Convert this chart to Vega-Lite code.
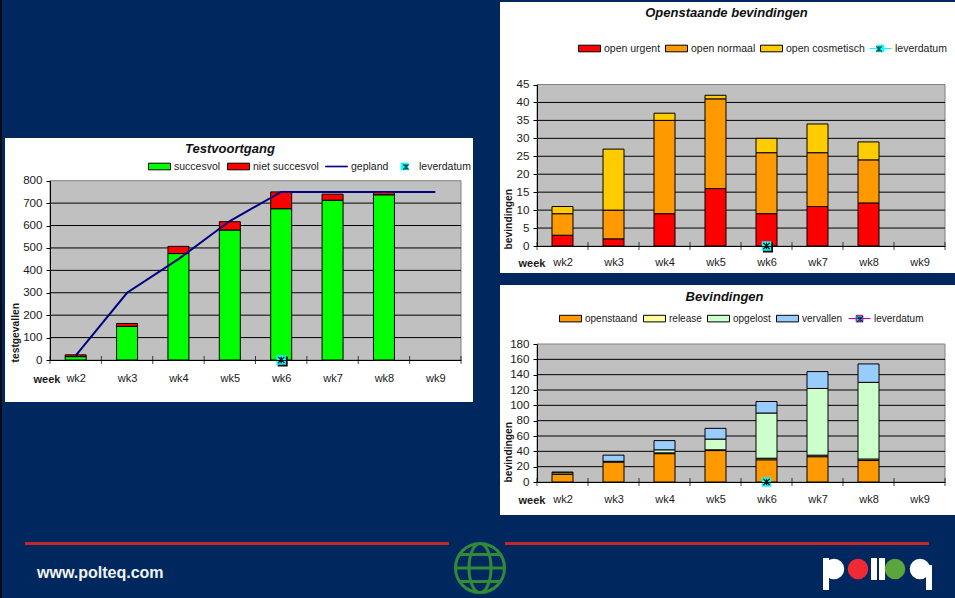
{"$schema":"https://vega.github.io/schema/vega-lite/v6.json","background":"#00285f","padding":0,"spacing":3,"resolve":{"scale":{"color":"independent","shape":"independent","stroke":"independent"},"legend":{"color":"independent","shape":"independent","stroke":"independent"}},"config":{"view":{"stroke":null},"font":"Liberation Sans","axis":{"labelFont":"Liberation Sans","titleFont":"Liberation Sans","labelColor":"#1a1a1a","titleColor":"#1a1a1a","domainColor":"black","tickColor":"black","labelOverlap":false},"legend":{"labelFont":"Liberation Sans","labelFontSize":10.5,"labelColor":"#1a1a1a"},"title":{"font":"Liberation Sans"}},"hconcat":[{"width":2,"height":598,"view":{"fill":"#0a0a14"},"data":{"values":[]},"mark":"point","encoding":{}},{"spacing":0,"resolve":{"scale":{"color":"independent","shape":"independent","stroke":"independent"},"legend":{"color":"independent","shape":"independent","stroke":"independent"}},"vconcat":[{"width":950,"height":2,"data":{"values":[]},"mark":"point","encoding":{}},{"spacing":27,"resolve":{"scale":{"color":"independent","shape":"independent","stroke":"independent"},"legend":{"color":"independent","shape":"independent","stroke":"independent"}},"hconcat":[{"spacing":0,"resolve":{"scale":{"color":"independent","shape":"independent","stroke":"independent"},"legend":{"color":"independent","shape":"independent","stroke":"independent"}},"vconcat":[{"width":468,"height":136,"data":{"values":[]},"mark":"point","encoding":{}},{"width":468,"height":264,"view":{"fill":"white"},"resolve":{"axis":{"y":"independent"}},"title":{"text":"Testvoortgang","fontSize":13,"fontWeight":"bold","fontStyle":"italic","color":"#111111","anchor":"middle","offset":-18,"dx":-9},"encoding":{"x":{"field":"week","type":"quantitative","scale":{"domain":[1.5,9.5],"range":[45,456],"nice":false,"zero":false,"padding":0},"axis":{"values":[2,3,4,5,6,7,8,9],"labelExpr":"'wk'+datum.value","ticks":false,"grid":false,"domain":true,"offset":-42,"labelPadding":12,"labelFontSize":11,"zindex":1,"title":"week","titleFontSize":11,"titleFontWeight":"bold","titleX":28,"titleY":22,"titleAlign":"left","titleBaseline":"alphabetic"}}},"layer":[{"data":{"values":[{"week":1.5,"end":9.5,"lo":0,"hi":800}]},"mark":{"type":"rect","fill":"#c0c0c0","stroke":"#808080"},"encoding":{"x2":{"field":"end"},"y":{"field":"lo","type":"quantitative","scale":{"domain":[0,800],"range":[222,42.7],"nice":false},"axis":{"values":[0,100,200,300,400,500,600,700,800],"grid":false,"domain":true,"tickSize":4,"labelPadding":4,"labelFontSize":11.6,"offset":-45,"zindex":1,"title":"testgevallen","titleFontSize":10.3,"titleFontWeight":"bold","titleAngle":-90,"titleX":-35,"titleY":224,"titleAlign":"left","titleBaseline":"middle"}},"y2":{"field":"hi"}}},{"data":{"values":[{"week":1.5,"end":9.5,"val":100},{"week":1.5,"end":9.5,"val":200},{"week":1.5,"end":9.5,"val":300},{"week":1.5,"end":9.5,"val":400},{"week":1.5,"end":9.5,"val":500},{"week":1.5,"end":9.5,"val":600},{"week":1.5,"end":9.5,"val":700}]},"mark":{"type":"rule","color":"black","strokeWidth":1},"encoding":{"x2":{"field":"end"},"y":{"field":"val","type":"quantitative","axis":null}}},{"data":{"values":[{"week":1.5,"val":0},{"week":2.5,"val":0},{"week":3.5,"val":0},{"week":4.5,"val":0},{"week":5.5,"val":0},{"week":6.5,"val":0},{"week":7.5,"val":0},{"week":8.5,"val":0},{"week":9.5,"val":0}]},"mark":{"type":"tick","orient":"vertical","size":8,"color":"black","thickness":1},"encoding":{"y":{"field":"val","type":"quantitative","axis":null}}},{"data":{"values":[{"week":2,"series":"succesvol","value":15,"ord":1},{"week":2,"series":"niet succesvol","value":8,"ord":2},{"week":3,"series":"succesvol","value":150,"ord":1},{"week":3,"series":"niet succesvol","value":13,"ord":2},{"week":4,"series":"succesvol","value":475,"ord":1},{"week":4,"series":"niet succesvol","value":32,"ord":2},{"week":5,"series":"succesvol","value":580,"ord":1},{"week":5,"series":"niet succesvol","value":37,"ord":2},{"week":6,"series":"succesvol","value":675,"ord":1},{"week":6,"series":"niet succesvol","value":75,"ord":2},{"week":7,"series":"succesvol","value":713,"ord":1},{"week":7,"series":"niet succesvol","value":27,"ord":2},{"week":8,"series":"succesvol","value":737,"ord":1},{"week":8,"series":"niet succesvol","value":13,"ord":2}]},"mark":{"type":"bar","orient":"vertical","size":21,"stroke":"black","strokeWidth":1},"encoding":{"y":{"field":"value","type":"quantitative","stack":"zero","axis":null},"order":{"field":"ord"},"color":{"field":"series","type":"nominal","scale":{"domain":["succesvol","niet succesvol","gepland","leverdatum"],"range":["#00ff00","#ff0000","#000080","#00ffff"]}}}},{"data":{"values":[{"week":2,"plan":20},{"week":3,"plan":300},{"week":4,"plan":450},{"week":5,"plan":620},{"week":6,"plan":750},{"week":7,"plan":750},{"week":8,"plan":750},{"week":9,"plan":750}]},"mark":{"type":"line","color":"#000080","strokeWidth":2},"encoding":{"y":{"field":"plan","type":"quantitative","axis":null}}},{"data":{"values":[{"week":6,"lever":0}]},"mark":{"type":"point","shape":"square","filled":true,"color":"black","size":100,"opacity":1,"xOffset":1.5,"yOffset":1.5},"encoding":{"y":{"field":"lever","type":"quantitative","axis":null}}},{"data":{"values":[{"week":6,"lever":0}]},"mark":{"type":"point","shape":"square","filled":true,"color":"#00ffff","size":90,"opacity":1},"encoding":{"y":{"field":"lever","type":"quantitative","axis":null}}},{"data":{"values":[{"week":6,"lever":0}]},"mark":{"type":"point","shape":"M-1,-1L1,1M-1,1L1,-1M0,-1V1","filled":false,"stroke":"black","strokeWidth":1.2,"size":40,"opacity":1},"encoding":{"y":{"field":"lever","type":"quantitative","axis":null}}},{"data":{"values":[]},"mark":{"type":"point","filled":true,"opacity":1},"encoding":{"color":{"field":"series","type":"nominal","scale":{"domain":["succesvol","niet succesvol","gepland","leverdatum"],"range":["#00ff00","#ff0000","#000080","#00ffff"]},"legend":{"orient":"none","legendX":143,"legendY":17,"direction":"horizontal","columns":4,"title":null,"padding":0,"columnPadding":4,"symbolSize":484,"labelOffset":3,"symbolOpacity":1,"encode":{"symbols":{"update":{"stroke":[{"test":"datum.value==='gepland'","value":"#000080"},{"test":"datum.value==='leverdatum'","value":"#00ffff"},{"value":"black"}],"strokeWidth":{"value":1}}}}}},"shape":{"field":"series","type":"nominal","scale":{"domain":["succesvol","niet succesvol","gepland","leverdatum"],"range":["M-1,-0.3H1V0.3H-1Z","M-1,-0.3H1V0.3H-1Z","M-1,-0.03H1V0.03H-1Z","M-0.3,-0.3H0.3V0.3H-0.3Z"]},"legend":{"orient":"none","legendX":143,"legendY":17,"direction":"horizontal","columns":4,"title":null}}}},{"data":{"values":[]},"mark":{"type":"point","filled":false},"encoding":{"stroke":{"field":"star","type":"nominal","scale":{"domain":["leverdatum"],"range":["black"]},"legend":{"orient":"none","legendX":389,"legendY":17,"title":null,"padding":0,"symbolSize":484,"symbolType":"M-0.25,-0.25L0.25,0.25M-0.25,0.25L0.25,-0.25M0,-0.25V0.25","labelExpr":"''","symbolStrokeWidth":1.2}}}}]}]},{"spacing":12,"resolve":{"scale":{"color":"independent","shape":"independent","stroke":"independent"},"legend":{"color":"independent","shape":"independent","stroke":"independent"}},"vconcat":[{"width":455,"height":271,"view":{"fill":"white"},"resolve":{"axis":{"y":"independent"}},"title":{"text":"Openstaande bevindingen","fontSize":13,"fontWeight":"bold","fontStyle":"italic","color":"#111111","anchor":"middle","offset":-18,"dx":-1},"encoding":{"x":{"field":"week","type":"quantitative","scale":{"domain":[1.5,9.5],"range":[37,445],"nice":false,"zero":false,"padding":0},"axis":{"values":[2,3,4,5,6,7,8,9],"labelExpr":"'wk'+datum.value","ticks":false,"grid":false,"domain":true,"offset":-27,"labelPadding":10,"labelFontSize":11,"zindex":1,"title":"week","titleFontSize":11,"titleFontWeight":"bold","titleX":18,"titleY":20,"titleAlign":"left","titleBaseline":"alphabetic"}}},"layer":[{"data":{"values":[{"week":1.5,"end":9.5,"lo":0,"hi":45}]},"mark":{"type":"rect","fill":"#c0c0c0","stroke":"#808080"},"encoding":{"x2":{"field":"end"},"y":{"field":"lo","type":"quantitative","scale":{"domain":[0,45],"range":[244,82.5],"nice":false},"axis":{"values":[0,5,10,15,20,25,30,35,40,45],"grid":false,"domain":true,"tickSize":4,"labelPadding":4,"labelFontSize":11.6,"offset":-37,"zindex":1,"title":"bevindingen","titleFontSize":10.3,"titleFontWeight":"bold","titleAngle":-90,"titleX":-29,"titleY":247,"titleAlign":"left","titleBaseline":"middle"}},"y2":{"field":"hi"}}},{"data":{"values":[{"week":1.5,"end":9.5,"val":5},{"week":1.5,"end":9.5,"val":10},{"week":1.5,"end":9.5,"val":15},{"week":1.5,"end":9.5,"val":20},{"week":1.5,"end":9.5,"val":25},{"week":1.5,"end":9.5,"val":30},{"week":1.5,"end":9.5,"val":35},{"week":1.5,"end":9.5,"val":40}]},"mark":{"type":"rule","color":"black","strokeWidth":1},"encoding":{"x2":{"field":"end"},"y":{"field":"val","type":"quantitative","axis":null}}},{"data":{"values":[{"week":1.5,"val":0},{"week":2.5,"val":0},{"week":3.5,"val":0},{"week":4.5,"val":0},{"week":5.5,"val":0},{"week":6.5,"val":0},{"week":7.5,"val":0},{"week":8.5,"val":0},{"week":9.5,"val":0}]},"mark":{"type":"tick","orient":"vertical","size":8,"color":"black","thickness":1},"encoding":{"y":{"field":"val","type":"quantitative","axis":null}}},{"data":{"values":[{"week":2,"series":"open urgent","value":3,"ord":1},{"week":2,"series":"open normaal","value":6,"ord":2},{"week":2,"series":"open cosmetisch","value":2,"ord":3},{"week":3,"series":"open urgent","value":2,"ord":1},{"week":3,"series":"open normaal","value":8,"ord":2},{"week":3,"series":"open cosmetisch","value":17,"ord":3},{"week":4,"series":"open urgent","value":9,"ord":1},{"week":4,"series":"open normaal","value":26,"ord":2},{"week":4,"series":"open cosmetisch","value":2,"ord":3},{"week":5,"series":"open urgent","value":16,"ord":1},{"week":5,"series":"open normaal","value":25,"ord":2},{"week":5,"series":"open cosmetisch","value":1,"ord":3},{"week":6,"series":"open urgent","value":9,"ord":1},{"week":6,"series":"open normaal","value":17,"ord":2},{"week":6,"series":"open cosmetisch","value":4,"ord":3},{"week":7,"series":"open urgent","value":11,"ord":1},{"week":7,"series":"open normaal","value":15,"ord":2},{"week":7,"series":"open cosmetisch","value":8,"ord":3},{"week":8,"series":"open urgent","value":12,"ord":1},{"week":8,"series":"open normaal","value":12,"ord":2},{"week":8,"series":"open cosmetisch","value":5,"ord":3}]},"mark":{"type":"bar","orient":"vertical","size":21,"stroke":"black","strokeWidth":1},"encoding":{"y":{"field":"value","type":"quantitative","stack":"zero","axis":null},"order":{"field":"ord"},"color":{"field":"series","type":"nominal","scale":{"domain":["open urgent","open normaal","open cosmetisch","leverdatum"],"range":["#ff0000","#ff9900","#ffcc00","#00ffff"]}}}},{"data":{"values":[{"week":6,"lever":0}]},"mark":{"type":"point","shape":"square","filled":true,"color":"black","size":100,"opacity":1,"xOffset":1.5,"yOffset":1.5},"encoding":{"y":{"field":"lever","type":"quantitative","axis":null}}},{"data":{"values":[{"week":6,"lever":0}]},"mark":{"type":"point","shape":"square","filled":true,"color":"#00ffff","size":90,"opacity":1},"encoding":{"y":{"field":"lever","type":"quantitative","axis":null}}},{"data":{"values":[{"week":6,"lever":0}]},"mark":{"type":"point","shape":"M-1,-1L1,1M-1,1L1,-1M0,-1V1","filled":false,"stroke":"black","strokeWidth":1.2,"size":40,"opacity":1},"encoding":{"y":{"field":"lever","type":"quantitative","axis":null}}},{"data":{"values":[]},"mark":{"type":"point","filled":true,"opacity":1},"encoding":{"color":{"field":"series","type":"nominal","scale":{"domain":["open urgent","open normaal","open cosmetisch","leverdatum"],"range":["#ff0000","#ff9900","#ffcc00","#00ffff"]},"legend":{"orient":"none","legendX":78,"legendY":35,"direction":"horizontal","columns":4,"title":null,"padding":0,"columnPadding":2,"symbolSize":484,"labelOffset":3,"symbolOpacity":1,"encode":{"symbols":{"update":{"stroke":[{"test":"datum.value==='leverdatum'","value":"#00ffff"},{"value":"black"}],"strokeWidth":{"value":1}}}}}},"shape":{"field":"series","type":"nominal","scale":{"domain":["open urgent","open normaal","open cosmetisch","leverdatum"],"range":["M-1,-0.3H1V0.3H-1Z","M-1,-0.3H1V0.3H-1Z","M-1,-0.3H1V0.3H-1Z","M-0.3,-0.3H0.3V0.3H-0.3Z M-1,0H1"]},"legend":{"orient":"none","legendX":78,"legendY":35,"direction":"horizontal","columns":4,"title":null}}}},{"data":{"values":[]},"mark":{"type":"point","filled":false},"encoding":{"stroke":{"field":"star","type":"nominal","scale":{"domain":["leverdatum"],"range":["black"]},"legend":{"orient":"none","legendX":367,"legendY":35,"title":null,"padding":0,"symbolSize":484,"symbolType":"M-0.25,-0.25L0.25,0.25M-0.25,0.25L0.25,-0.25M0,-0.25V0.25","labelExpr":"''","symbolStrokeWidth":1.2}}}}]},{"width":455,"height":230,"view":{"fill":"white"},"resolve":{"axis":{"y":"independent"}},"title":{"text":"Bevindingen","fontSize":13,"fontWeight":"bold","fontStyle":"italic","color":"#111111","anchor":"middle","offset":-19,"dx":-3},"encoding":{"x":{"field":"week","type":"quantitative","scale":{"domain":[1.5,9.5],"range":[37,445],"nice":false,"zero":false,"padding":0},"axis":{"values":[2,3,4,5,6,7,8,9],"labelExpr":"'wk'+datum.value","ticks":false,"grid":false,"domain":true,"offset":-33,"labelPadding":11,"labelFontSize":11,"zindex":1,"title":"week","titleFontSize":11,"titleFontWeight":"bold","titleX":18,"titleY":21,"titleAlign":"left","titleBaseline":"alphabetic"}}},"layer":[{"data":{"values":[{"week":1.5,"end":9.5,"lo":0,"hi":180}]},"mark":{"type":"rect","fill":"#c0c0c0","stroke":"#808080"},"encoding":{"x2":{"field":"end"},"y":{"field":"lo","type":"quantitative","scale":{"domain":[0,180],"range":[197,59],"nice":false},"axis":{"values":[0,20,40,60,80,100,120,140,160,180],"grid":false,"domain":true,"tickSize":4,"labelPadding":4,"labelFontSize":11.6,"offset":-37,"zindex":1,"title":"bevindingen","titleFontSize":10.3,"titleFontWeight":"bold","titleAngle":-90,"titleX":-29,"titleY":197,"titleAlign":"left","titleBaseline":"middle"}},"y2":{"field":"hi"}}},{"data":{"values":[{"week":1.5,"end":9.5,"val":20},{"week":1.5,"end":9.5,"val":40},{"week":1.5,"end":9.5,"val":60},{"week":1.5,"end":9.5,"val":80},{"week":1.5,"end":9.5,"val":100},{"week":1.5,"end":9.5,"val":120},{"week":1.5,"end":9.5,"val":140},{"week":1.5,"end":9.5,"val":160}]},"mark":{"type":"rule","color":"black","strokeWidth":1},"encoding":{"x2":{"field":"end"},"y":{"field":"val","type":"quantitative","axis":null}}},{"data":{"values":[{"week":1.5,"val":0},{"week":2.5,"val":0},{"week":3.5,"val":0},{"week":4.5,"val":0},{"week":5.5,"val":0},{"week":6.5,"val":0},{"week":7.5,"val":0},{"week":8.5,"val":0},{"week":9.5,"val":0}]},"mark":{"type":"tick","orient":"vertical","size":8,"color":"black","thickness":1},"encoding":{"y":{"field":"val","type":"quantitative","axis":null}}},{"data":{"values":[{"week":2,"series":"openstaand","value":10,"ord":1},{"week":2,"series":"release","value":2,"ord":2},{"week":2,"series":"vervallen","value":1,"ord":4},{"week":3,"series":"openstaand","value":26,"ord":1},{"week":3,"series":"release","value":1,"ord":2},{"week":3,"series":"vervallen","value":8,"ord":4},{"week":4,"series":"openstaand","value":37,"ord":1},{"week":4,"series":"release","value":1,"ord":2},{"week":4,"series":"opgelost","value":4,"ord":3},{"week":4,"series":"vervallen","value":12,"ord":4},{"week":5,"series":"openstaand","value":41,"ord":1},{"week":5,"series":"release","value":1,"ord":2},{"week":5,"series":"opgelost","value":14,"ord":3},{"week":5,"series":"vervallen","value":14,"ord":4},{"week":6,"series":"openstaand","value":29,"ord":1},{"week":6,"series":"release","value":2,"ord":2},{"week":6,"series":"opgelost","value":59,"ord":3},{"week":6,"series":"vervallen","value":15,"ord":4},{"week":7,"series":"openstaand","value":33,"ord":1},{"week":7,"series":"release","value":2,"ord":2},{"week":7,"series":"opgelost","value":87,"ord":3},{"week":7,"series":"vervallen","value":22,"ord":4},{"week":8,"series":"openstaand","value":28,"ord":1},{"week":8,"series":"release","value":2,"ord":2},{"week":8,"series":"opgelost","value":100,"ord":3},{"week":8,"series":"vervallen","value":24,"ord":4}]},"mark":{"type":"bar","orient":"vertical","size":21,"stroke":"black","strokeWidth":1},"encoding":{"y":{"field":"value","type":"quantitative","stack":"zero","axis":null},"order":{"field":"ord"},"color":{"field":"series","type":"nominal","scale":{"domain":["openstaand","release","opgelost","vervallen","leverdatum"],"range":["#ff9900","#ffff99","#ccffcc","#99ccff","#00ffff"]}}}},{"data":{"values":[{"week":6,"lever":0}]},"mark":{"type":"point","shape":"square","filled":true,"color":"#00ffff","size":90,"opacity":1},"encoding":{"y":{"field":"lever","type":"quantitative","axis":null}}},{"data":{"values":[{"week":6,"lever":0}]},"mark":{"type":"point","shape":"M-1,-1L1,1M-1,1L1,-1M0,-1V1","filled":false,"stroke":"black","strokeWidth":1.2,"size":40,"opacity":1},"encoding":{"y":{"field":"lever","type":"quantitative","axis":null}}},{"data":{"values":[]},"mark":{"type":"point","filled":true,"opacity":1},"encoding":{"color":{"field":"series","type":"nominal","scale":{"domain":["openstaand","release","opgelost","vervallen","leverdatum"],"range":["#ff9900","#ffff99","#ccffcc","#99ccff","#00ffff"]},"legend":{"orient":"none","legendX":59,"legendY":22,"direction":"horizontal","columns":5,"title":null,"padding":0,"columnPadding":3,"labelFontSize":10,"symbolSize":484,"labelOffset":3,"symbolOpacity":1,"encode":{"symbols":{"update":{"stroke":[{"test":"datum.value==='leverdatum'","value":"#a000a0"},{"value":"black"}],"strokeWidth":{"value":1}}}}}},"shape":{"field":"series","type":"nominal","scale":{"domain":["openstaand","release","opgelost","vervallen","leverdatum"],"range":["M-1,-0.3H1V0.3H-1Z","M-1,-0.3H1V0.3H-1Z","M-1,-0.3H1V0.3H-1Z","M-1,-0.3H1V0.3H-1Z","M-0.3,-0.3H0.3V0.3H-0.3Z M-1,0H1"]},"legend":{"orient":"none","legendX":59,"legendY":22,"direction":"horizontal","columns":5,"title":null}}}},{"data":{"values":[]},"mark":{"type":"point","filled":false},"encoding":{"stroke":{"field":"star","type":"nominal","scale":{"domain":["leverdatum"],"range":["black"]},"legend":{"orient":"none","legendX":348,"legendY":22,"title":null,"padding":0,"symbolSize":484,"symbolType":"M-0.25,-0.25L0.25,0.25M-0.25,0.25L0.25,-0.25M0,-0.25V0.25","labelExpr":"''","symbolStrokeWidth":1.2}}}}]}]}]},{"width":950,"height":83,"encoding":{"x":{"field":"sx","type":"quantitative","scale":{"domain":[5,955],"range":[0,950],"nice":false,"zero":false},"axis":null},"y":{"field":"sy","type":"quantitative","scale":{"domain":[515,598],"range":[0,83],"nice":false,"zero":false},"axis":null}},"layer":[{"data":{"values":[{"sx":25,"ex":449,"sy":543.5},{"sx":505,"ex":929,"sy":543.5}]},"mark":{"type":"rule","color":"#c1272d","strokeWidth":3},"encoding":{"x2":{"field":"ex"}}},{"data":{"values":[{"sx":37,"sy":573,"t":"www.polteq.com"}]},"mark":{"type":"text","font":"Liberation Sans","fontWeight":"bold","fontSize":16,"align":"left","baseline":"middle","color":"#f2f2f2"},"encoding":{"text":{"field":"t"}}},{"data":{"values":[{"sx":480,"sy":568}]},"mark":{"type":"point","shape":"M-1,0A1,1 0 1,0 1,0A1,1 0 1,0 -1,0Z M-0.45,0A0.45,1 0 1,0 0.45,0A0.45,1 0 1,0 -0.45,0Z M-1,0H1 M-0.8,-0.55H0.8 M-0.8,0.55H0.8","filled":false,"stroke":"#2f8a3a","strokeWidth":3,"size":2400,"opacity":1}},{"data":{"values":[{"sx":823,"ex":829,"sy":558,"ey":590},{"sx":871,"ex":877,"sy":558,"ey":580},{"sx":879,"ex":885,"sy":558,"ey":580},{"sx":926,"ex":932,"sy":565,"ey":590}]},"mark":{"type":"rect","color":"white"},"encoding":{"x2":{"field":"ex"},"y2":{"field":"ey"}}},{"data":{"values":[{"sx":834,"sy":569,"c":"white"},{"sx":858,"sy":569,"c":"#ee2a35"},{"sx":895,"sy":569,"c":"#5aa63c"},{"sx":920,"sy":569,"c":"white"}]},"mark":{"type":"point","shape":"circle","filled":true,"size":420,"opacity":1},"encoding":{"color":{"field":"c","type":"nominal","scale":null,"legend":null}}}]}]}]}
